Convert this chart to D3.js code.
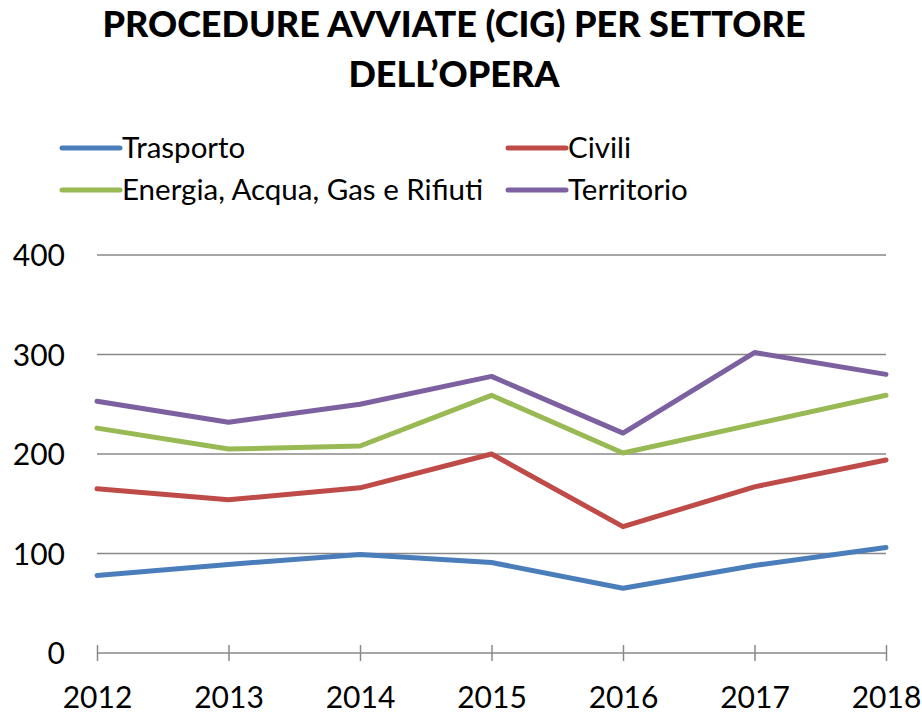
<!DOCTYPE html>
<html><head><meta charset="utf-8">
<script src="https://cdn.jsdelivr.net/npm/d3@7"></script>
<style>body{margin:0;background:#fff}svg{display:block}text{font-family:Lato,"Open Sans",sans-serif}</style>
</head><body>
<svg id="c" width="922" height="713"></svg>
<script>
const years = [2012, 2013, 2014, 2015, 2016, 2017, 2018];
const trasporto = [78, 89, 99, 91, 65, 88, 106];
const civili = [165, 154, 166, 200, 127, 167, 194];
const energia = [226, 205, 208, 259, 201, 230, 259];
const territorio = [253, 232, 250, 278, 221, 302, 280];
const yTicks = [0, 100, 200, 300, 400];
const titleLines = ["PROCEDURE AVVIATE (CIG) PER SETTORE", "DELL\u2019OPERA"];
const seriesNames = ["Trasporto", "Civili", "Energia, Acqua, Gas e Rifiuti", "Territorio"];
const seriesColors = ["#4a7ebb", "#be4b48", "#98b954", "#7d60a0"];
const seriesData = [trasporto, civili, energia, territorio];

const svg = d3.select("#c");
const x = d3.scalePoint().domain(years).range([97, 886]);
const y = d3.scaleLinear().domain([0, 400]).range([653, 255]);

// title
svg.selectAll("text.title").data(titleLines).join("text")
  .attr("class", "title")
  .attr("x", 454).attr("y", (d, i) => 37 + i * 50)
  .attr("text-anchor", "middle")
  .attr("font-weight", "900").attr("font-size", 36).attr("fill", "#000")
  .text(d => d);

// gridlines
const grid = svg.append("g");
grid.selectAll("line").data(yTicks.filter(d => d > 0)).join("line")
  .attr("x1", 97).attr("x2", 886)
  .attr("y1", d => y(d)).attr("y2", d => y(d))
  .attr("stroke", "#888").attr("stroke-width", 1.5);

// y axis labels
const yAxis = d3.axisLeft(y).tickValues(yTicks).tickSize(0).tickPadding(0);
const gy = svg.append("g").attr("transform", "translate(65,0)").call(yAxis);
gy.select(".domain").remove();
gy.selectAll("text").attr("font-size", 30).attr("font-family", "Lato").attr("fill", "#000").attr("dy", "0.36em");

// x axis
const xAxis = d3.axisBottom(x).tickSizeInner(8).tickSizeOuter(0).tickPadding(26);
const gx = svg.append("g").attr("transform", "translate(0,653)").call(xAxis);
gx.select(".domain").attr("stroke", "#888").attr("stroke-width", 1.5).attr("d", "M97,0H886");
gx.selectAll(".tick line").attr("stroke", "#888").attr("stroke-width", 1.5).attr("y1", -8).attr("y2", 8);
gx.selectAll("text").attr("font-size", 30).attr("font-family", "Lato").attr("fill", "#000");

// lines
const line = d3.line().x((d, i) => x(years[i])).y(d => y(d));
svg.append("g").selectAll("path").data(seriesData).join("path")
  .attr("d", d => line(d))
  .attr("fill", "none")
  .attr("stroke", (d, i) => seriesColors[i])
  .attr("stroke-width", 5).attr("stroke-linejoin", "round").attr("stroke-linecap", "round");

// legend
const lg = svg.append("g");
const items = lg.selectAll("g").data(seriesNames).join("g")
  .attr("transform", (d, i) => `translate(${i % 2 === 0 ? 62 : 508},${i < 2 ? 148 : 190})`);
items.append("line").attr("x1", 0).attr("x2", 58).attr("y1", 0).attr("y2", 0)
  .attr("stroke", (d, i) => seriesColors[i]).attr("stroke-width", 5).attr("stroke-linecap", "round");
items.append("text").attr("x", 60).attr("y", 10)
  .attr("font-size", 29.5).attr("fill", "#000").text(d => d);
</script>
</body></html>
